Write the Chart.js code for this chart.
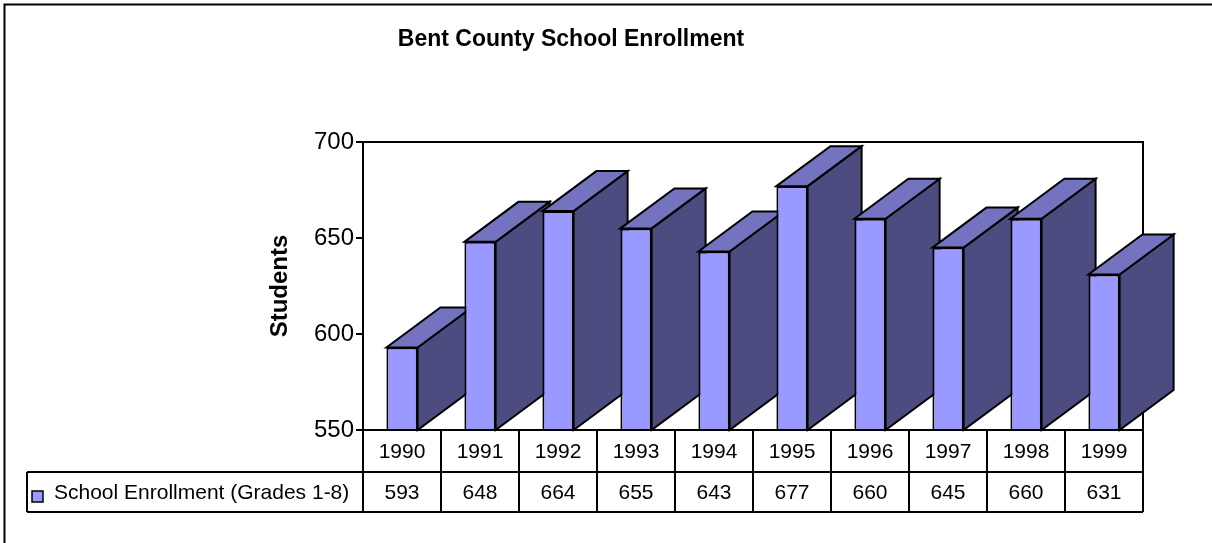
<!DOCTYPE html>
<html>
<head>
<meta charset="utf-8">
<script src="https://cdn.jsdelivr.net/npm/chart.js@4/dist/chart.umd.min.js"></script>
<style>
  html, body { margin: 0; padding: 0; background: #fff; }
  #wrap { width: 1212px; height: 543px; }
</style>
</head>
<body>
<div id="wrap"><canvas id="enrollChart" width="1212" height="543"></canvas></div>
<script>
// chart values
const chartTitle = "Bent County School Enrollment";
const axisTitle = "Students";
const seriesName = "School Enrollment (Grades 1-8)";
const years = ["1990", "1991", "1992", "1993", "1994", "1995", "1996", "1997", "1998", "1999"];
const enrollment = [593, 648, 664, 655, 643, 677, 660, 645, 660, 631];
const yMin = 550;
const yMax = 700;
const yStep = 50;

const FONT = "'Liberation Sans', Arial, sans-serif";
const frontColor = "#9999FF";
const topColor = "#7373BF";
const sideColor = "#4C4C80";
const depthX = 54, depthY = 40;

// frame, title, plot border and the 3d faces of the bars
const bars3d = {
    id: "bars3d",
    beforeDraw(chart) {
        const ctx = chart.ctx;
        ctx.save();
        ctx.fillStyle = "#fff";
        ctx.fillRect(0, 0, chart.width, chart.height);
        ctx.strokeStyle = "#000";
        ctx.lineWidth = 2;
        ctx.strokeRect(4.5, 4.5, chart.width + 50, chart.height + 50);
        ctx.fillStyle = "#000";
        ctx.font = "bold 23px " + FONT;
        ctx.textAlign = "center";
        ctx.textBaseline = "alphabetic";
        ctx.fillText(chartTitle, 571, 46);
        ctx.restore();
    },
    beforeDatasetsDraw(chart) {
        const ctx = chart.ctx;
        const a = chart.chartArea;
        ctx.save();
        ctx.strokeStyle = "#000";
        ctx.lineWidth = 2;
        ctx.beginPath();
        ctx.moveTo(a.left, a.top);
        ctx.lineTo(a.right, a.top);
        ctx.lineTo(a.right, a.bottom);
        ctx.stroke();

        ctx.lineJoin = "miter";
        const meta = chart.getDatasetMeta(0);
        meta.data.forEach(bar => {
            const p = bar.getProps(["x", "y", "base", "width"], true);
            const l = p.x - p.width / 2, r = p.x + p.width / 2;
            const t = p.y, b = Math.min(p.base, a.bottom);
            // side
            ctx.beginPath();
            ctx.moveTo(r, t);
            ctx.lineTo(r + depthX, t - depthY);
            ctx.lineTo(r + depthX, b - depthY);
            ctx.lineTo(r, b);
            ctx.closePath();
            ctx.fillStyle = sideColor;
            ctx.fill();
            ctx.stroke();
            // top
            ctx.beginPath();
            ctx.moveTo(l, t);
            ctx.lineTo(l + depthX, t - depthY);
            ctx.lineTo(r + depthX, t - depthY);
            ctx.lineTo(r, t);
            ctx.closePath();
            ctx.fillStyle = topColor;
            ctx.fill();
            ctx.stroke();
        });
        ctx.restore();
    },
    afterDraw(chart) {
        // data table under the plot
        const ctx = chart.ctx;
        const x = chart.scales.x;
        const a = chart.chartArea;
        const cw = (x.right - x.left) / years.length;
        const r1t = a.bottom, r1b = 472, r2b = 512, legLeft = 27;
        ctx.save();
        ctx.strokeStyle = "#000";
        ctx.lineWidth = 2;
        ctx.beginPath();
        ctx.moveTo(x.left, r1t); ctx.lineTo(x.right, r1t);
        ctx.moveTo(legLeft, r1b); ctx.lineTo(x.right, r1b);
        ctx.moveTo(legLeft, r2b); ctx.lineTo(x.right, r2b);
        ctx.moveTo(legLeft, r1b); ctx.lineTo(legLeft, r2b);
        for (let i = 0; i <= years.length; i++) {
            const bx = x.left + i * cw;
            ctx.moveTo(bx, r1t); ctx.lineTo(bx, r2b);
        }
        ctx.stroke();

        ctx.fillStyle = "#000";
        ctx.font = "21px " + FONT;
        ctx.textAlign = "center";
        ctx.textBaseline = "middle";
        years.forEach((yr, i) => {
            const cx = x.getPixelForValue(i);
            ctx.fillText(yr, cx, (r1t + r1b) / 2 + 1);
            ctx.fillText(String(enrollment[i]), cx, (r1b + r2b) / 2 + 1);
        });

        // legend key
        ctx.fillStyle = frontColor;
        ctx.fillRect(32, 491, 11, 11);
        ctx.lineWidth = 1.5;
        ctx.strokeRect(32, 491, 11, 11);
        ctx.fillStyle = "#000";
        ctx.textAlign = "left";
        ctx.fillText(seriesName, 54, (r1b + r2b) / 2 + 1);
        ctx.restore();
    }
};

new Chart(document.getElementById("enrollChart"), {
    type: "bar",
    data: {
        labels: years,
        datasets: [{
            label: seriesName,
            data: enrollment,
            backgroundColor: frontColor,
            borderColor: "#000",
            borderWidth: 2,
            borderSkipped: false,
            barPercentage: 0.4,
            categoryPercentage: 1
        }]
    },
    options: {
        responsive: false,
        animation: false,
        layout: { padding: { left: 262, right: 69, top: 142, bottom: 113 } },
        plugins: {
            legend: { display: false },
            title: { display: false },
            tooltip: { enabled: false }
        },
        scales: {
            x: { display: false },
            y: {
                min: yMin,
                max: yMax,
                ticks: { stepSize: yStep, color: "#000", padding: 2, font: { family: FONT, size: 24 } },
                grid: { drawOnChartArea: false, color: "#000", lineWidth: 2, tickLength: 7 },
                border: { color: "#000", width: 2 },
                title: { display: true, text: axisTitle, color: "#000", font: { family: FONT, size: 24, weight: "bold" } },
                afterFit(scale) { scale.width = 101; }
            }
        }
    },
    plugins: [bars3d]
});
</script>
</body>
</html>
